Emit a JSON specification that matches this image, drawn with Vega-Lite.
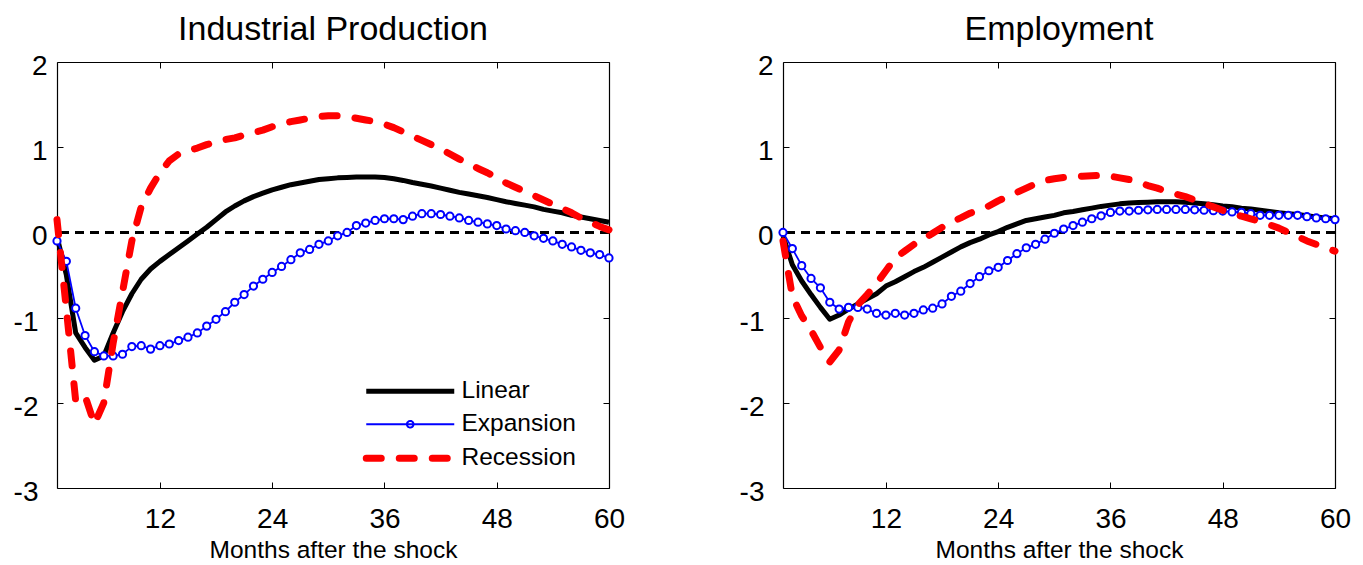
{
  "$schema": "https://vega.github.io/schema/vega-lite/v6.json",
  "padding": {"left": 13, "top": 12, "right": 5, "bottom": 0},
  "background": "white",
  "config": {
    "view": {"stroke": null},
    "font": "Liberation Sans",
    "axis": {
      "grid": false,
      "domainColor": "black",
      "domainWidth": 1.2,
      "tickColor": "black",
      "tickWidth": 1,
      "tickSize": -6,
      "labelColor": "black",
      "labelFont": "Liberation Sans",
      "labelFontSize": 28,
      "labelFlush": false,
      "labelOverlap": false,
      "titleFont": "Liberation Sans",
      "titleFontWeight": "normal",
      "titleColor": "black",
      "titleFontSize": 24.5
    },
    "title": {"font": "Liberation Sans", "fontSize": 34, "fontWeight": "normal", "color": "black", "anchor": "middle", "baseline": "alphabetic", "offset": 6}
  },
  "resolve": {"scale": {"color": "independent"}, "legend": {"color": "independent"}},
  "spacing": 114,
  "datasets": {
    "d": [
{"p":"IP","s":"Linear","m":1,"v":-0.05},{"p":"IP","s":"Linear","m":2,"v":-0.5},{"p":"IP","s":"Linear","m":3,"v":-1.18},{"p":"IP","s":"Linear","m":4,"v":-1.35},{"p":"IP","s":"Linear","m":5,"v":-1.5},{"p":"IP","s":"Linear","m":6,"v":-1.45},{"p":"IP","s":"Linear","m":7,"v":-1.18},{"p":"IP","s":"Linear","m":8,"v":-0.93},{"p":"IP","s":"Linear","m":9,"v":-0.72},{"p":"IP","s":"Linear","m":10,"v":-0.55},
{"p":"IP","s":"Linear","m":11,"v":-0.43},{"p":"IP","s":"Linear","m":12,"v":-0.34},{"p":"IP","s":"Linear","m":13,"v":-0.26},{"p":"IP","s":"Linear","m":14,"v":-0.18},{"p":"IP","s":"Linear","m":15,"v":-0.1},{"p":"IP","s":"Linear","m":16,"v":-0.02},{"p":"IP","s":"Linear","m":17,"v":0.06},{"p":"IP","s":"Linear","m":18,"v":0.15},{"p":"IP","s":"Linear","m":19,"v":0.24},{"p":"IP","s":"Linear","m":20,"v":0.31},
{"p":"IP","s":"Linear","m":21,"v":0.37},{"p":"IP","s":"Linear","m":22,"v":0.42},{"p":"IP","s":"Linear","m":23,"v":0.46},{"p":"IP","s":"Linear","m":24,"v":0.5},{"p":"IP","s":"Linear","m":25,"v":0.53},{"p":"IP","s":"Linear","m":26,"v":0.56},{"p":"IP","s":"Linear","m":27,"v":0.58},{"p":"IP","s":"Linear","m":28,"v":0.6},{"p":"IP","s":"Linear","m":29,"v":0.62},{"p":"IP","s":"Linear","m":30,"v":0.63},
{"p":"IP","s":"Linear","m":31,"v":0.64},{"p":"IP","s":"Linear","m":32,"v":0.645},{"p":"IP","s":"Linear","m":33,"v":0.65},{"p":"IP","s":"Linear","m":34,"v":0.65},{"p":"IP","s":"Linear","m":35,"v":0.65},{"p":"IP","s":"Linear","m":36,"v":0.645},{"p":"IP","s":"Linear","m":37,"v":0.63},{"p":"IP","s":"Linear","m":38,"v":0.61},{"p":"IP","s":"Linear","m":39,"v":0.585},{"p":"IP","s":"Linear","m":40,"v":0.565},
{"p":"IP","s":"Linear","m":41,"v":0.545},{"p":"IP","s":"Linear","m":42,"v":0.52},{"p":"IP","s":"Linear","m":43,"v":0.495},{"p":"IP","s":"Linear","m":44,"v":0.47},{"p":"IP","s":"Linear","m":45,"v":0.45},{"p":"IP","s":"Linear","m":46,"v":0.43},{"p":"IP","s":"Linear","m":47,"v":0.41},{"p":"IP","s":"Linear","m":48,"v":0.385},{"p":"IP","s":"Linear","m":49,"v":0.36},{"p":"IP","s":"Linear","m":50,"v":0.34},
{"p":"IP","s":"Linear","m":51,"v":0.32},{"p":"IP","s":"Linear","m":52,"v":0.3},{"p":"IP","s":"Linear","m":53,"v":0.27},{"p":"IP","s":"Linear","m":54,"v":0.25},{"p":"IP","s":"Linear","m":55,"v":0.23},{"p":"IP","s":"Linear","m":56,"v":0.2},{"p":"IP","s":"Linear","m":57,"v":0.18},{"p":"IP","s":"Linear","m":58,"v":0.16},{"p":"IP","s":"Linear","m":59,"v":0.14},{"p":"IP","s":"Linear","m":60,"v":0.12},
{"p":"IP","s":"Expansion","m":1,"v":-0.1},{"p":"IP","s":"Expansion","m":2,"v":-0.34},{"p":"IP","s":"Expansion","m":3,"v":-0.89},{"p":"IP","s":"Expansion","m":4,"v":-1.21},{"p":"IP","s":"Expansion","m":5,"v":-1.4},{"p":"IP","s":"Expansion","m":6,"v":-1.45},{"p":"IP","s":"Expansion","m":7,"v":-1.45},{"p":"IP","s":"Expansion","m":8,"v":-1.43},{"p":"IP","s":"Expansion","m":9,"v":-1.34},{"p":"IP","s":"Expansion","m":10,"v":-1.33},
{"p":"IP","s":"Expansion","m":11,"v":-1.37},{"p":"IP","s":"Expansion","m":12,"v":-1.33},{"p":"IP","s":"Expansion","m":13,"v":-1.31},{"p":"IP","s":"Expansion","m":14,"v":-1.27},{"p":"IP","s":"Expansion","m":15,"v":-1.23},{"p":"IP","s":"Expansion","m":16,"v":-1.18},{"p":"IP","s":"Expansion","m":17,"v":-1.1},{"p":"IP","s":"Expansion","m":18,"v":-1.02},{"p":"IP","s":"Expansion","m":19,"v":-0.93},{"p":"IP","s":"Expansion","m":20,"v":-0.82},
{"p":"IP","s":"Expansion","m":21,"v":-0.73},{"p":"IP","s":"Expansion","m":22,"v":-0.63},{"p":"IP","s":"Expansion","m":23,"v":-0.55},{"p":"IP","s":"Expansion","m":24,"v":-0.47},{"p":"IP","s":"Expansion","m":25,"v":-0.4},{"p":"IP","s":"Expansion","m":26,"v":-0.32},{"p":"IP","s":"Expansion","m":27,"v":-0.24},{"p":"IP","s":"Expansion","m":28,"v":-0.2},{"p":"IP","s":"Expansion","m":29,"v":-0.14},{"p":"IP","s":"Expansion","m":30,"v":-0.1},
{"p":"IP","s":"Expansion","m":31,"v":-0.04},{"p":"IP","s":"Expansion","m":32,"v":0.0},{"p":"IP","s":"Expansion","m":33,"v":0.08},{"p":"IP","s":"Expansion","m":34,"v":0.11},{"p":"IP","s":"Expansion","m":35,"v":0.14},{"p":"IP","s":"Expansion","m":36,"v":0.16},{"p":"IP","s":"Expansion","m":37,"v":0.16},{"p":"IP","s":"Expansion","m":38,"v":0.15},{"p":"IP","s":"Expansion","m":39,"v":0.19},{"p":"IP","s":"Expansion","m":40,"v":0.22},
{"p":"IP","s":"Expansion","m":41,"v":0.22},{"p":"IP","s":"Expansion","m":42,"v":0.21},{"p":"IP","s":"Expansion","m":43,"v":0.19},{"p":"IP","s":"Expansion","m":44,"v":0.17},{"p":"IP","s":"Expansion","m":45,"v":0.14},{"p":"IP","s":"Expansion","m":46,"v":0.12},{"p":"IP","s":"Expansion","m":47,"v":0.1},{"p":"IP","s":"Expansion","m":48,"v":0.08},{"p":"IP","s":"Expansion","m":49,"v":0.04},{"p":"IP","s":"Expansion","m":50,"v":0.02},
{"p":"IP","s":"Expansion","m":51,"v":0.0},{"p":"IP","s":"Expansion","m":52,"v":-0.04},{"p":"IP","s":"Expansion","m":53,"v":-0.07},{"p":"IP","s":"Expansion","m":54,"v":-0.1},{"p":"IP","s":"Expansion","m":55,"v":-0.14},{"p":"IP","s":"Expansion","m":56,"v":-0.17},{"p":"IP","s":"Expansion","m":57,"v":-0.21},{"p":"IP","s":"Expansion","m":58,"v":-0.24},{"p":"IP","s":"Expansion","m":59,"v":-0.26},{"p":"IP","s":"Expansion","m":60,"v":-0.3},
{"p":"IP","s":"Recession","m":1,"v":0.15},{"p":"IP","s":"Recession","m":2,"v":-0.9},{"p":"IP","s":"Recession","m":3,"v":-1.98},{"p":"IP","s":"Recession","m":4,"v":-1.92},{"p":"IP","s":"Recession","m":5,"v":-2.25},{"p":"IP","s":"Recession","m":6,"v":-2.0},{"p":"IP","s":"Recession","m":7,"v":-1.3},{"p":"IP","s":"Recession","m":8,"v":-0.7},{"p":"IP","s":"Recession","m":9,"v":-0.1},{"p":"IP","s":"Recession","m":10,"v":0.3},
{"p":"IP","s":"Recession","m":11,"v":0.52},{"p":"IP","s":"Recession","m":12,"v":0.7},{"p":"IP","s":"Recession","m":13,"v":0.84},{"p":"IP","s":"Recession","m":14,"v":0.92},{"p":"IP","s":"Recession","m":15,"v":0.96},{"p":"IP","s":"Recession","m":16,"v":0.99},{"p":"IP","s":"Recession","m":17,"v":1.03},{"p":"IP","s":"Recession","m":18,"v":1.06},{"p":"IP","s":"Recession","m":19,"v":1.09},{"p":"IP","s":"Recession","m":20,"v":1.11},
{"p":"IP","s":"Recession","m":21,"v":1.14},{"p":"IP","s":"Recession","m":22,"v":1.17},{"p":"IP","s":"Recession","m":23,"v":1.2},{"p":"IP","s":"Recession","m":24,"v":1.24},{"p":"IP","s":"Recession","m":25,"v":1.27},{"p":"IP","s":"Recession","m":26,"v":1.3},{"p":"IP","s":"Recession","m":27,"v":1.32},{"p":"IP","s":"Recession","m":28,"v":1.34},{"p":"IP","s":"Recession","m":29,"v":1.36},{"p":"IP","s":"Recession","m":30,"v":1.37},
{"p":"IP","s":"Recession","m":31,"v":1.37},{"p":"IP","s":"Recession","m":32,"v":1.36},{"p":"IP","s":"Recession","m":33,"v":1.34},{"p":"IP","s":"Recession","m":34,"v":1.32},{"p":"IP","s":"Recession","m":35,"v":1.3},{"p":"IP","s":"Recession","m":36,"v":1.27},{"p":"IP","s":"Recession","m":37,"v":1.23},{"p":"IP","s":"Recession","m":38,"v":1.18},{"p":"IP","s":"Recession","m":39,"v":1.13},{"p":"IP","s":"Recession","m":40,"v":1.08},
{"p":"IP","s":"Recession","m":41,"v":1.03},{"p":"IP","s":"Recession","m":42,"v":0.98},{"p":"IP","s":"Recession","m":43,"v":0.92},{"p":"IP","s":"Recession","m":44,"v":0.86},{"p":"IP","s":"Recession","m":45,"v":0.81},{"p":"IP","s":"Recession","m":46,"v":0.75},{"p":"IP","s":"Recession","m":47,"v":0.7},{"p":"IP","s":"Recession","m":48,"v":0.64},{"p":"IP","s":"Recession","m":49,"v":0.58},{"p":"IP","s":"Recession","m":50,"v":0.53},
{"p":"IP","s":"Recession","m":51,"v":0.48},{"p":"IP","s":"Recession","m":52,"v":0.43},{"p":"IP","s":"Recession","m":53,"v":0.38},{"p":"IP","s":"Recession","m":54,"v":0.33},{"p":"IP","s":"Recession","m":55,"v":0.28},{"p":"IP","s":"Recession","m":56,"v":0.23},{"p":"IP","s":"Recession","m":57,"v":0.17},{"p":"IP","s":"Recession","m":58,"v":0.12},{"p":"IP","s":"Recession","m":59,"v":0.07},{"p":"IP","s":"Recession","m":60,"v":0.03},
{"p":"EMP","s":"Linear","m":1,"v":-0.04},{"p":"EMP","s":"Linear","m":2,"v":-0.38},{"p":"EMP","s":"Linear","m":3,"v":-0.57},{"p":"EMP","s":"Linear","m":4,"v":-0.73},{"p":"EMP","s":"Linear","m":5,"v":-0.88},{"p":"EMP","s":"Linear","m":6,"v":-1.02},{"p":"EMP","s":"Linear","m":7,"v":-0.97},{"p":"EMP","s":"Linear","m":8,"v":-0.9},{"p":"EMP","s":"Linear","m":9,"v":-0.84},{"p":"EMP","s":"Linear","m":10,"v":-0.78},
{"p":"EMP","s":"Linear","m":11,"v":-0.72},{"p":"EMP","s":"Linear","m":12,"v":-0.63},{"p":"EMP","s":"Linear","m":13,"v":-0.58},{"p":"EMP","s":"Linear","m":14,"v":-0.52},{"p":"EMP","s":"Linear","m":15,"v":-0.46},{"p":"EMP","s":"Linear","m":16,"v":-0.41},{"p":"EMP","s":"Linear","m":17,"v":-0.35},{"p":"EMP","s":"Linear","m":18,"v":-0.29},{"p":"EMP","s":"Linear","m":19,"v":-0.23},{"p":"EMP","s":"Linear","m":20,"v":-0.17},
{"p":"EMP","s":"Linear","m":21,"v":-0.12},{"p":"EMP","s":"Linear","m":22,"v":-0.08},{"p":"EMP","s":"Linear","m":23,"v":-0.03},{"p":"EMP","s":"Linear","m":24,"v":0.01},{"p":"EMP","s":"Linear","m":25,"v":0.06},{"p":"EMP","s":"Linear","m":26,"v":0.1},{"p":"EMP","s":"Linear","m":27,"v":0.14},{"p":"EMP","s":"Linear","m":28,"v":0.16},{"p":"EMP","s":"Linear","m":29,"v":0.18},{"p":"EMP","s":"Linear","m":30,"v":0.2},
{"p":"EMP","s":"Linear","m":31,"v":0.23},{"p":"EMP","s":"Linear","m":32,"v":0.245},{"p":"EMP","s":"Linear","m":33,"v":0.265},{"p":"EMP","s":"Linear","m":34,"v":0.285},{"p":"EMP","s":"Linear","m":35,"v":0.305},{"p":"EMP","s":"Linear","m":36,"v":0.32},{"p":"EMP","s":"Linear","m":37,"v":0.335},{"p":"EMP","s":"Linear","m":38,"v":0.345},{"p":"EMP","s":"Linear","m":39,"v":0.35},{"p":"EMP","s":"Linear","m":40,"v":0.355},
{"p":"EMP","s":"Linear","m":41,"v":0.36},{"p":"EMP","s":"Linear","m":42,"v":0.36},{"p":"EMP","s":"Linear","m":43,"v":0.36},{"p":"EMP","s":"Linear","m":44,"v":0.355},{"p":"EMP","s":"Linear","m":45,"v":0.345},{"p":"EMP","s":"Linear","m":46,"v":0.335},{"p":"EMP","s":"Linear","m":47,"v":0.325},{"p":"EMP","s":"Linear","m":48,"v":0.31},{"p":"EMP","s":"Linear","m":49,"v":0.3},{"p":"EMP","s":"Linear","m":50,"v":0.285},
{"p":"EMP","s":"Linear","m":51,"v":0.275},{"p":"EMP","s":"Linear","m":52,"v":0.26},{"p":"EMP","s":"Linear","m":53,"v":0.245},{"p":"EMP","s":"Linear","m":54,"v":0.23},{"p":"EMP","s":"Linear","m":55,"v":0.22},{"p":"EMP","s":"Linear","m":56,"v":0.21},{"p":"EMP","s":"Linear","m":57,"v":0.195},{"p":"EMP","s":"Linear","m":58,"v":0.18},{"p":"EMP","s":"Linear","m":59,"v":0.17},{"p":"EMP","s":"Linear","m":60,"v":0.16},
{"p":"EMP","s":"Expansion","m":1,"v":0.0},{"p":"EMP","s":"Expansion","m":2,"v":-0.19},{"p":"EMP","s":"Expansion","m":3,"v":-0.39},{"p":"EMP","s":"Expansion","m":4,"v":-0.54},{"p":"EMP","s":"Expansion","m":5,"v":-0.65},{"p":"EMP","s":"Expansion","m":6,"v":-0.82},{"p":"EMP","s":"Expansion","m":7,"v":-0.9},{"p":"EMP","s":"Expansion","m":8,"v":-0.88},{"p":"EMP","s":"Expansion","m":9,"v":-0.88},{"p":"EMP","s":"Expansion","m":10,"v":-0.9},
{"p":"EMP","s":"Expansion","m":11,"v":-0.95},{"p":"EMP","s":"Expansion","m":12,"v":-0.97},{"p":"EMP","s":"Expansion","m":13,"v":-0.95},{"p":"EMP","s":"Expansion","m":14,"v":-0.97},{"p":"EMP","s":"Expansion","m":15,"v":-0.95},{"p":"EMP","s":"Expansion","m":16,"v":-0.91},{"p":"EMP","s":"Expansion","m":17,"v":-0.89},{"p":"EMP","s":"Expansion","m":18,"v":-0.84},{"p":"EMP","s":"Expansion","m":19,"v":-0.75},{"p":"EMP","s":"Expansion","m":20,"v":-0.69},
{"p":"EMP","s":"Expansion","m":21,"v":-0.6},{"p":"EMP","s":"Expansion","m":22,"v":-0.52},{"p":"EMP","s":"Expansion","m":23,"v":-0.45},{"p":"EMP","s":"Expansion","m":24,"v":-0.41},{"p":"EMP","s":"Expansion","m":25,"v":-0.33},{"p":"EMP","s":"Expansion","m":26,"v":-0.25},{"p":"EMP","s":"Expansion","m":27,"v":-0.18},{"p":"EMP","s":"Expansion","m":28,"v":-0.14},{"p":"EMP","s":"Expansion","m":29,"v":-0.08},{"p":"EMP","s":"Expansion","m":30,"v":-0.01},
{"p":"EMP","s":"Expansion","m":31,"v":0.04},{"p":"EMP","s":"Expansion","m":32,"v":0.08},{"p":"EMP","s":"Expansion","m":33,"v":0.12},{"p":"EMP","s":"Expansion","m":34,"v":0.16},{"p":"EMP","s":"Expansion","m":35,"v":0.195},{"p":"EMP","s":"Expansion","m":36,"v":0.235},{"p":"EMP","s":"Expansion","m":37,"v":0.25},{"p":"EMP","s":"Expansion","m":38,"v":0.25},{"p":"EMP","s":"Expansion","m":39,"v":0.26},{"p":"EMP","s":"Expansion","m":40,"v":0.265},
{"p":"EMP","s":"Expansion","m":41,"v":0.27},{"p":"EMP","s":"Expansion","m":42,"v":0.27},{"p":"EMP","s":"Expansion","m":43,"v":0.27},{"p":"EMP","s":"Expansion","m":44,"v":0.27},{"p":"EMP","s":"Expansion","m":45,"v":0.265},{"p":"EMP","s":"Expansion","m":46,"v":0.26},{"p":"EMP","s":"Expansion","m":47,"v":0.255},{"p":"EMP","s":"Expansion","m":48,"v":0.25},{"p":"EMP","s":"Expansion","m":49,"v":0.24},{"p":"EMP","s":"Expansion","m":50,"v":0.235},
{"p":"EMP","s":"Expansion","m":51,"v":0.22},{"p":"EMP","s":"Expansion","m":52,"v":0.2},{"p":"EMP","s":"Expansion","m":53,"v":0.2},{"p":"EMP","s":"Expansion","m":54,"v":0.2},{"p":"EMP","s":"Expansion","m":55,"v":0.2},{"p":"EMP","s":"Expansion","m":56,"v":0.2},{"p":"EMP","s":"Expansion","m":57,"v":0.185},{"p":"EMP","s":"Expansion","m":58,"v":0.17},{"p":"EMP","s":"Expansion","m":59,"v":0.16},{"p":"EMP","s":"Expansion","m":60,"v":0.15},
{"p":"EMP","s":"Recession","m":1,"v":-0.1},{"p":"EMP","s":"Recession","m":2,"v":-0.75},{"p":"EMP","s":"Recession","m":3,"v":-0.98},{"p":"EMP","s":"Recession","m":4,"v":-1.15},{"p":"EMP","s":"Recession","m":5,"v":-1.35},{"p":"EMP","s":"Recession","m":6,"v":-1.52},{"p":"EMP","s":"Recession","m":7,"v":-1.38},{"p":"EMP","s":"Recession","m":8,"v":-1.05},{"p":"EMP","s":"Recession","m":9,"v":-0.85},{"p":"EMP","s":"Recession","m":10,"v":-0.73},
{"p":"EMP","s":"Recession","m":11,"v":-0.6},{"p":"EMP","s":"Recession","m":12,"v":-0.45},{"p":"EMP","s":"Recession","m":13,"v":-0.3},{"p":"EMP","s":"Recession","m":14,"v":-0.22},{"p":"EMP","s":"Recession","m":15,"v":-0.14},{"p":"EMP","s":"Recession","m":16,"v":-0.08},{"p":"EMP","s":"Recession","m":17,"v":-0.01},{"p":"EMP","s":"Recession","m":18,"v":0.06},{"p":"EMP","s":"Recession","m":19,"v":0.12},{"p":"EMP","s":"Recession","m":20,"v":0.17},
{"p":"EMP","s":"Recession","m":21,"v":0.225},{"p":"EMP","s":"Recession","m":22,"v":0.27},{"p":"EMP","s":"Recession","m":23,"v":0.31},{"p":"EMP","s":"Recession","m":24,"v":0.37},{"p":"EMP","s":"Recession","m":25,"v":0.42},{"p":"EMP","s":"Recession","m":26,"v":0.47},{"p":"EMP","s":"Recession","m":27,"v":0.52},{"p":"EMP","s":"Recession","m":28,"v":0.57},{"p":"EMP","s":"Recession","m":29,"v":0.61},{"p":"EMP","s":"Recession","m":30,"v":0.63},
{"p":"EMP","s":"Recession","m":31,"v":0.645},{"p":"EMP","s":"Recession","m":32,"v":0.655},{"p":"EMP","s":"Recession","m":33,"v":0.66},{"p":"EMP","s":"Recession","m":34,"v":0.665},{"p":"EMP","s":"Recession","m":35,"v":0.67},{"p":"EMP","s":"Recession","m":36,"v":0.66},{"p":"EMP","s":"Recession","m":37,"v":0.64},{"p":"EMP","s":"Recession","m":38,"v":0.62},{"p":"EMP","s":"Recession","m":39,"v":0.59},{"p":"EMP","s":"Recession","m":40,"v":0.55},
{"p":"EMP","s":"Recession","m":41,"v":0.52},{"p":"EMP","s":"Recession","m":42,"v":0.48},{"p":"EMP","s":"Recession","m":43,"v":0.45},{"p":"EMP","s":"Recession","m":44,"v":0.42},{"p":"EMP","s":"Recession","m":45,"v":0.38},{"p":"EMP","s":"Recession","m":46,"v":0.34},{"p":"EMP","s":"Recession","m":47,"v":0.3},{"p":"EMP","s":"Recession","m":48,"v":0.26},{"p":"EMP","s":"Recession","m":49,"v":0.225},{"p":"EMP","s":"Recession","m":50,"v":0.19},
{"p":"EMP","s":"Recession","m":51,"v":0.16},{"p":"EMP","s":"Recession","m":52,"v":0.13},{"p":"EMP","s":"Recession","m":53,"v":0.09},{"p":"EMP","s":"Recession","m":54,"v":0.05},{"p":"EMP","s":"Recession","m":55,"v":0.0},{"p":"EMP","s":"Recession","m":56,"v":-0.05},{"p":"EMP","s":"Recession","m":57,"v":-0.1},{"p":"EMP","s":"Recession","m":58,"v":-0.14},{"p":"EMP","s":"Recession","m":59,"v":-0.18},{"p":"EMP","s":"Recession","m":60,"v":-0.22}
    ]
  },
  "hconcat": [
    {
      "width": 552, "height": 426,
      "title": {"text": "Industrial Production"},
      "data": {"name": "d"},
      "transform": [{"filter": "datum.p === 'IP'"}],
      "resolve": {"axis": {"x": "independent", "y": "independent"}},
      "layer": [
        {
          "mark": {"type": "rule", "color": "black", "strokeWidth": 1.5, "strokeDash": [9, 6]},
          "encoding": {"y": {"datum": 0, "type": "quantitative", "scale": {"domain": [-3, 2], "nice": false, "zero": false}, "axis": null}}
        },
        {
          "transform": [{"filter": "datum.s === 'Linear'"}],
          "mark": {"type": "line", "strokeWidth": 5, "strokeJoin": "round"},
          "encoding": {
            "x": {"field": "m", "type": "quantitative", "scale": {"domain": [1, 60], "nice": false, "zero": false},
                  "axis": {"orient": "bottom", "values": [12, 24, 36, 48, 60], "title": "Months after the shock", "labelPadding": 23, "titlePadding": 5}},
            "y": {"field": "v", "type": "quantitative", "scale": {"domain": [-3, 2], "nice": false, "zero": false},
                  "axis": {"orient": "left", "values": [-3, -2, -1, 0, 1, 2], "title": null, "labelOffset": 4.5,
                           "labelPadding": {"condition": {"test": "datum.value < 0", "value": 25}, "value": 16},
                           "labelExpr": "datum.value < 0 ? '-' + (-datum.value) : '' + datum.value"}},
            "color": {"field": "s", "type": "nominal", "scale": {"domain": ["Linear", "Expansion", "Recession"], "range": ["#000000", "#0000ff", "#ff0000"]},
              "legend": {"title": null, "orient": "none", "legendX": 341, "legendY": 317, "padding": 0, "symbolType": "M-4,0H4", "symbolSize": 484, "symbolStrokeWidth": 2,
                "labelFontSize": 24.5, "labelFont": "Liberation Sans", "labelColor": "black", "labelOffset": 39, "rowPadding": 8, "labelLimit": 400,
                "encode": {"symbols": {"update": {
                  "shape": {"signal": "datum.value === 'Expansion' ? 'M-4,0H4M0.3,0A0.3,0.3,0,1,1,-0.3,0A0.3,0.3,0,1,1,0.3,0' : 'M-4,0H4'"},
                  "strokeWidth": {"signal": "datum.value === 'Linear' ? 5 : datum.value === 'Expansion' ? 2 : 7"},
                  "strokeDash": {"signal": "datum.value === 'Recession' ? [15, 18] : [1, 0]"},
                  "strokeCap": {"signal": "datum.value === 'Recession' ? 'round' : 'butt'"},
                  "fill": {"value": "white"}, "fillOpacity": {"value": 1}, "opacity": {"value": 1}}}}}}
          }
        },
        {
          "transform": [{"filter": "datum.s === 'Expansion'"}],
          "mark": {"type": "line", "strokeWidth": 1.8},
          "encoding": {
            "x": {"field": "m", "type": "quantitative", "axis": {"orient": "top", "values": [12, 24, 36, 48, 60], "labels": false, "title": null}},
            "y": {"field": "v", "type": "quantitative", "axis": {"orient": "right", "values": [-3, -2, -1, 0, 1, 2], "labels": false, "title": null}},
            "color": {"field": "s", "type": "nominal"}
          }
        },
        {
          "transform": [{"filter": "datum.s === 'Expansion'"}],
          "mark": {"type": "point", "shape": "circle", "filled": true, "fill": "white", "stroke": "#0000ff", "strokeWidth": 2, "size": 52, "opacity": 1},
          "encoding": {
            "x": {"field": "m", "type": "quantitative", "axis": null},
            "y": {"field": "v", "type": "quantitative", "axis": null}
          }
        },
        {
          "transform": [{"filter": "datum.s === 'Recession'"}],
          "mark": {"type": "line", "strokeWidth": 7, "strokeDash": [15, 18], "strokeCap": "round", "strokeJoin": "round"},
          "encoding": {
            "x": {"field": "m", "type": "quantitative", "axis": null},
            "y": {"field": "v", "type": "quantitative", "axis": null},
            "color": {"field": "s", "type": "nominal"}
          }
        }
      ]
    },
    {
      "width": 552, "height": 426,
      "title": {"text": "Employment"},
      "data": {"name": "d"},
      "transform": [{"filter": "datum.p === 'EMP'"}],
      "resolve": {"axis": {"x": "independent", "y": "independent"}},
      "layer": [
        {
          "mark": {"type": "rule", "color": "black", "strokeWidth": 1.5, "strokeDash": [9, 6]},
          "encoding": {"y": {"datum": 0, "type": "quantitative", "scale": {"domain": [-3, 2], "nice": false, "zero": false}, "axis": null}}
        },
        {
          "transform": [{"filter": "datum.s === 'Linear'"}],
          "mark": {"type": "line", "strokeWidth": 5, "strokeJoin": "round"},
          "encoding": {
            "x": {"field": "m", "type": "quantitative", "scale": {"domain": [1, 60], "nice": false, "zero": false},
                  "axis": {"orient": "bottom", "values": [12, 24, 36, 48, 60], "title": "Months after the shock", "labelPadding": 23, "titlePadding": 5}},
            "y": {"field": "v", "type": "quantitative", "scale": {"domain": [-3, 2], "nice": false, "zero": false},
                  "axis": {"orient": "left", "values": [-3, -2, -1, 0, 1, 2], "title": null, "labelOffset": 4.5,
                           "labelPadding": {"condition": {"test": "datum.value < 0", "value": 25}, "value": 16},
                           "labelExpr": "datum.value < 0 ? '-' + (-datum.value) : '' + datum.value"}},
            "color": {"field": "s", "type": "nominal", "scale": {"domain": ["Linear", "Expansion", "Recession"], "range": ["#000000", "#0000ff", "#ff0000"]}, "legend": null}
          }
        },
        {
          "transform": [{"filter": "datum.s === 'Expansion'"}],
          "mark": {"type": "line", "strokeWidth": 1.8},
          "encoding": {
            "x": {"field": "m", "type": "quantitative", "axis": {"orient": "top", "values": [12, 24, 36, 48, 60], "labels": false, "title": null}},
            "y": {"field": "v", "type": "quantitative", "axis": {"orient": "right", "values": [-3, -2, -1, 0, 1, 2], "labels": false, "title": null}},
            "color": {"field": "s", "type": "nominal", "legend": null}
          }
        },
        {
          "transform": [{"filter": "datum.s === 'Expansion'"}],
          "mark": {"type": "point", "shape": "circle", "filled": true, "fill": "white", "stroke": "#0000ff", "strokeWidth": 2, "size": 52, "opacity": 1},
          "encoding": {
            "x": {"field": "m", "type": "quantitative", "axis": null},
            "y": {"field": "v", "type": "quantitative", "axis": null}
          }
        },
        {
          "transform": [{"filter": "datum.s === 'Recession'"}],
          "mark": {"type": "line", "strokeWidth": 7, "strokeDash": [15, 18], "strokeCap": "round", "strokeJoin": "round"},
          "encoding": {
            "x": {"field": "m", "type": "quantitative", "axis": null},
            "y": {"field": "v", "type": "quantitative", "axis": null},
            "color": {"field": "s", "type": "nominal", "legend": null}
          }
        }
      ]
    }
  ]
}
